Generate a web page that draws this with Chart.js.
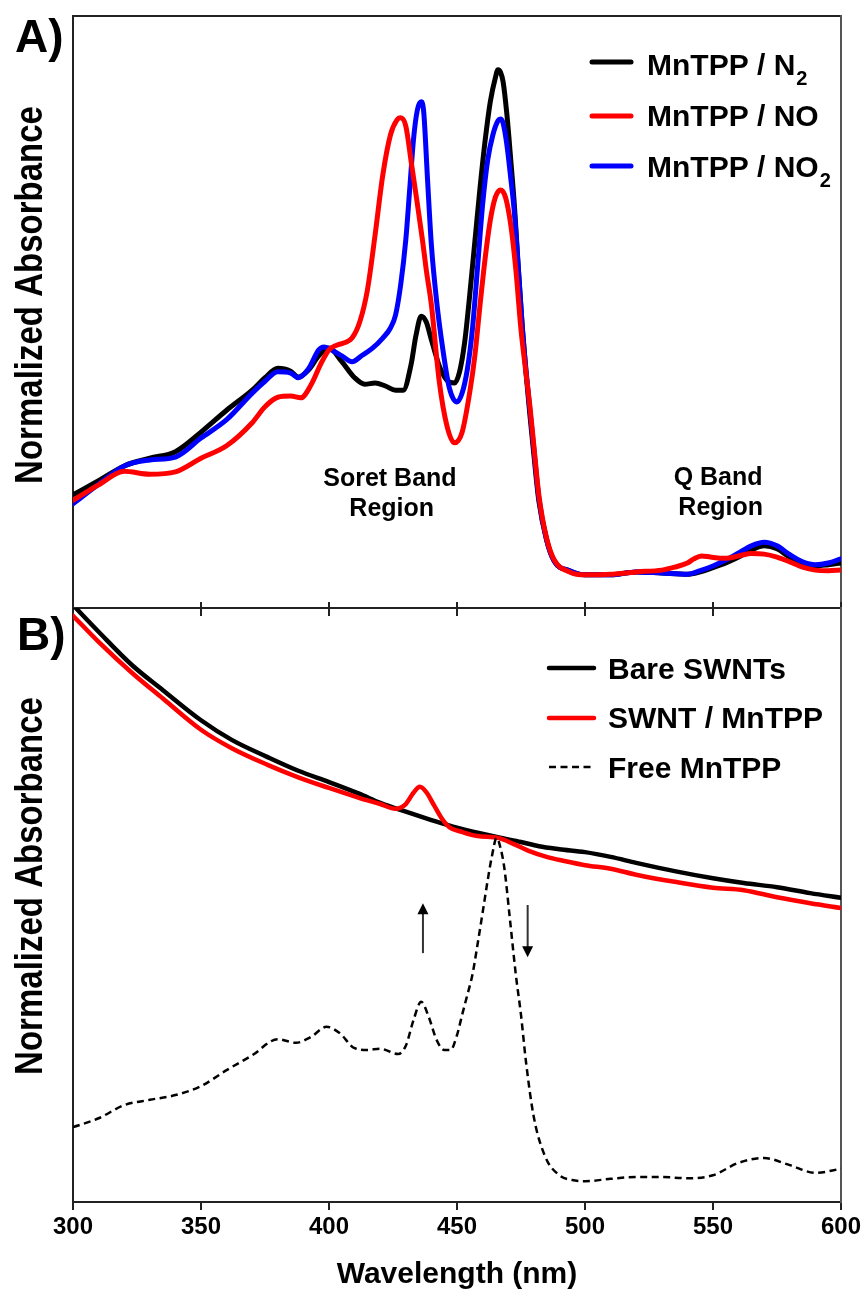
<!DOCTYPE html>
<html>
<head>
<meta charset="utf-8">
<script src="https://cdn.jsdelivr.net/npm/chart.js@4.4.1/dist/chart.umd.min.js"></script>
<style>
  html, body { margin: 0; padding: 0; background: #fff; }
  #wrap { position: relative; width: 865px; height: 1291px; }
  #wrap canvas { position: absolute; left: 0; top: 0; }
</style>
</head>
<body>
<div id="wrap">
  <canvas id="chartA" width="865" height="1291"></canvas>
  <canvas id="chartB" width="865" height="1291"></canvas>
</div>
<script>
// ---- panel A: MnTPP under different gases (normalized absorbance, 0-100) ----
const n2Nm  = [300, 310, 320, 330, 340, 350, 360, 370, 375, 380, 385, 388, 392, 396, 400, 405, 410, 414, 418, 422, 426, 429, 432, 434, 436, 438, 440, 443, 446, 449, 451, 453, 455, 457, 459, 461, 463, 465, 466, 467, 468, 469.5, 471, 472.5, 474, 475.5, 477, 478.5, 480, 482, 485, 488, 494, 500, 510, 520, 530, 540, 545, 550, 555, 560, 565, 570, 575, 580, 585, 590, 595, 600];
const n2Abs = [19.1, 21.5, 24.0, 25.3, 26.4, 29.7, 33.4, 36.8, 38.9, 40.5, 40.0, 39.0, 40.2, 42.6, 43.9, 41.6, 38.9, 37.8, 38.0, 37.5, 36.8, 36.8, 41.0, 46.1, 49.3, 48.3, 45.3, 41.0, 38.5, 38.0, 39.9, 44.9, 53.0, 62.0, 71.0, 79.0, 85.5, 89.6, 90.9, 90.5, 88.9, 83.3, 75.7, 67.5, 57.1, 47.5, 39.5, 32.5, 26.0, 18.0, 11.5, 7.9, 6.3, 5.6, 5.6, 6.1, 5.9, 5.7, 6.1, 6.8, 7.6, 8.6, 9.8, 10.5, 10.0, 8.6, 7.6, 7.1, 7.3, 7.6];

const noNm  = [300, 310, 320, 330, 340, 350, 360, 370, 375, 380, 385, 389, 393, 397, 400, 403, 406, 409, 412, 415, 418, 421, 424, 426.5, 428, 430, 432.3, 434.3, 436.5, 438, 440, 443, 446, 449, 452, 455, 457, 459, 461, 463, 465, 467, 469, 471, 473, 475, 477, 478.5, 480, 482, 485, 488, 494, 500, 510, 520, 530, 535, 540, 542.5, 545.5, 549, 553, 557, 561, 565, 570, 575, 580, 585, 590, 595, 600];
const noAbs = [18.2, 20.8, 23.1, 22.6, 23.0, 25.3, 27.4, 31.3, 34.0, 35.6, 35.8, 35.5, 37.7, 41.4, 43.6, 44.4, 44.8, 45.6, 48.3, 53.7, 63.0, 73.1, 79.9, 82.4, 82.8, 81.4, 74.8, 68.9, 62.2, 57.1, 51.2, 38.5, 30.9, 27.9, 29.7, 36.5, 42.7, 51.2, 59.1, 65.5, 69.4, 70.6, 69.3, 64.7, 57.1, 47.0, 39.5, 34.0, 27.5, 19.0, 11.8, 8.1, 6.1, 5.6, 5.7, 6.1, 6.4, 6.9, 7.6, 8.3, 8.8, 8.6, 8.4, 8.5, 8.9, 9.2, 9.1, 8.6, 7.8, 6.9, 6.4, 6.3, 6.4];

const no2Nm  = [300, 310, 320, 330, 340, 350, 360, 370, 375, 380, 385, 388, 392, 396, 398, 401, 405, 409, 413, 417, 421, 424, 426, 428, 430, 431.5, 433, 434.5, 436, 437, 438.5, 440, 442, 444.5, 447, 450, 452, 454, 456, 458, 460, 462, 464, 466, 467, 468, 469.5, 471, 472.5, 474, 475.5, 477, 478.5, 480, 482, 485, 488, 494, 500, 510, 520, 530, 540, 545, 550, 555, 560, 565, 570, 575, 580, 585, 590, 595, 600];
const no2Abs = [17.6, 20.9, 24.0, 25.0, 25.5, 28.7, 31.8, 36.3, 38.3, 39.9, 39.7, 38.9, 40.4, 43.6, 44.1, 43.6, 42.6, 41.6, 42.7, 43.9, 45.6, 47.3, 49.5, 54.6, 62.2, 70.6, 79.1, 84.1, 85.5, 83.8, 72.3, 61.3, 52.0, 43.6, 37.2, 34.8, 36.3, 40.2, 47.0, 57.4, 68.1, 75.7, 79.9, 82.3, 82.6, 81.9, 78.2, 72.6, 66.4, 57.1, 47.5, 40.0, 33.4, 27.0, 18.5, 11.5, 7.9, 6.3, 5.6, 5.6, 6.1, 5.9, 5.7, 6.3, 7.1, 8.1, 9.3, 10.5, 11.1, 10.5, 9.0, 7.8, 7.3, 7.6, 8.3];

// ---- panel B: nanotube films (normalized absorbance, 0-100) ----
const bareNm  = [300, 310, 323, 335, 350, 362, 376, 388, 400, 412, 420, 430, 440, 450, 466, 475, 482, 490, 500, 510, 520, 535, 550, 562, 575, 588, 600];
const bareAbs = [100.5, 96.0, 90.4, 86.2, 81.1, 77.8, 74.9, 72.6, 70.7, 68.7, 67.2, 65.7, 64.3, 63.0, 61.4, 60.6, 59.9, 59.4, 58.9, 58.1, 57.1, 55.7, 54.5, 53.7, 53.0, 52.0, 51.2];

const hybNm  = [300, 310, 323, 335, 350, 362, 376, 388, 400, 412, 420, 426, 430, 433, 435.5, 438, 441, 444, 447, 452, 458, 466, 472, 478, 485, 492, 500, 510, 520, 535, 550, 562, 575, 588, 600];
const hybAbs = [98.7, 94.3, 89.1, 84.8, 79.5, 76.4, 73.6, 71.5, 69.7, 68.0, 67.0, 66.2, 67.0, 68.9, 69.9, 69.0, 66.8, 64.6, 63.1, 62.3, 61.6, 61.3, 60.3, 59.1, 58.1, 57.4, 56.7, 56.1, 55.1, 53.9, 52.9, 52.5, 51.3, 50.3, 49.5];

const freeNm  = [300, 310, 320, 330, 340, 350, 360, 370, 380, 387, 393, 399, 404, 410, 415, 420, 427, 430, 433, 436, 439, 442, 445, 447.5, 450, 452, 454, 456, 458, 460, 462, 463.5, 465.5, 467, 468.5, 470.7, 473, 475, 477, 480, 484.5, 490, 495, 500, 510, 520, 530, 540, 550, 560, 570, 580, 590, 600];
const freeAbs = [12.6, 14.1, 16.3, 17.2, 18.0, 19.5, 22.2, 24.7, 27.4, 26.8, 27.8, 29.5, 28.5, 25.9, 25.6, 25.8, 24.9, 26.3, 30.6, 33.7, 31.1, 27.3, 25.6, 25.6, 28.1, 31.5, 34.8, 38.2, 43.3, 48.7, 54.2, 57.9, 61.3, 59.6, 56.2, 47.5, 38.2, 31.5, 23.4, 14.3, 7.6, 4.5, 3.7, 3.5, 3.9, 4.2, 4.2, 4.0, 4.5, 6.6, 7.4, 6.2, 4.9, 5.6];

const wlTicks = [300, 350, 400, 450, 500, 550, 600];

const namesA = ['MnTPP / N', 'MnTPP / NO', 'MnTPP / NO'];
const subsA  = ['2', '', '2'];
const namesB = ['Bare SWNTs', 'SWNT / MnTPP', 'Free MnTPP'];

const FONT = '"Liberation Sans", Arial, Helvetica, sans-serif';
Chart.defaults.font.family = FONT;

function pts(xs, ys) {
  return xs.map((x, i) => ({ x: x, y: ys[i] }));
}

function drawYTitle(ctx, text, baseX, centerY) {
  ctx.save();
  ctx.translate(baseX, centerY);
  ctx.rotate(-Math.PI / 2);
  ctx.scale(1, 1.15);
  ctx.font = 'bold 33px ' + FONT;
  ctx.fillStyle = '#000';
  ctx.textAlign = 'center';
  ctx.textBaseline = 'alphabetic';
  ctx.fillText(text, 0, 0);
  ctx.restore();
}

function drawLegend(chart, names, subs, x0, x1, tx, lineYs, baseYs) {
  const ctx = chart.ctx;
  names.forEach((name, i) => {
    const ds = chart.data.datasets[i];
    ctx.save();
    ctx.strokeStyle = ds.borderColor;
    ctx.lineWidth = ds.borderWidth;
    if (ds.borderDash) {
      ctx.setLineDash(ds.borderDash);
      ctx.lineCap = 'butt';
    } else {
      ctx.lineCap = 'round';
    }
    ctx.beginPath();
    ctx.moveTo(x0, lineYs[i]);
    ctx.lineTo(x1, lineYs[i]);
    ctx.stroke();
    ctx.setLineDash([]);
    ctx.fillStyle = '#000';
    ctx.textAlign = 'left';
    ctx.textBaseline = 'alphabetic';
    ctx.font = 'bold 30px ' + FONT;
    ctx.fillText(name, tx, baseYs[i]);
    if (subs && subs[i]) {
      const w = ctx.measureText(name).width;
      ctx.font = 'bold 20px ' + FONT;
      ctx.fillText(subs[i], tx + w + 1, baseYs[i] + 10);
    }
    ctx.restore();
  });
}

function drawArrow(ctx, x, y0, y1) {
  const dir = y1 < y0 ? -1 : 1;
  ctx.save();
  ctx.strokeStyle = '#333';
  ctx.lineWidth = 2;
  ctx.beginPath();
  ctx.moveTo(x, y0);
  ctx.lineTo(x, y1 - dir * 10);
  ctx.stroke();
  ctx.fillStyle = '#000';
  ctx.beginPath();
  ctx.moveTo(x, y1);
  ctx.lineTo(x - 5.5, y1 - dir * 11);
  ctx.lineTo(x + 5.5, y1 - dir * 11);
  ctx.closePath();
  ctx.fill();
  ctx.restore();
}

const panelAExtras = {
  id: 'panelAExtras',
  afterDraw(chart) {
    const ctx = chart.ctx;
    const xs = chart.scales.x, ys = chart.scales.y;
    ctx.save();
    ctx.fillStyle = '#000';
    ctx.font = 'bold 46px ' + FONT;
    ctx.textAlign = 'left';
    ctx.fillText('A)', 15, 52);
    ctx.font = 'bold 25px ' + FONT;
    ctx.textAlign = 'center';
    ctx.fillText('Soret Band', xs.getPixelForValue(423.8), ys.getPixelForValue(20.6));
    ctx.fillText('Region', xs.getPixelForValue(424.5), ys.getPixelForValue(15.5));
    ctx.fillText('Q Band', xs.getPixelForValue(552), ys.getPixelForValue(20.8));
    ctx.fillText('Region', xs.getPixelForValue(553), ys.getPixelForValue(15.7));
    ctx.restore();
    drawYTitle(ctx, 'Normalized Absorbance', 42, 295);
    drawLegend(chart, namesA, subsA, 592, 631, 647, [62, 116, 166], [75, 126, 177]);
  }
};

const panelBExtras = {
  id: 'panelBExtras',
  afterDraw(chart) {
    const ctx = chart.ctx;
    const xs = chart.scales.x, ys = chart.scales.y;
    ctx.save();
    ctx.fillStyle = '#000';
    ctx.font = 'bold 46px ' + FONT;
    ctx.textAlign = 'left';
    ctx.fillText('B)', 17, 650);
    ctx.restore();
    drawYTitle(ctx, 'Normalized Absorbance', 42, 886);
    drawLegend(chart, namesB, null, 549, 594, 608, [668, 718, 767], [679, 728, 778]);
    drawArrow(ctx, xs.getPixelForValue(436.7), ys.getPixelForValue(41.9), ys.getPixelForValue(50.3));
    drawArrow(ctx, xs.getPixelForValue(477.6), ys.getPixelForValue(50.0), ys.getPixelForValue(41.2));
  }
};

const frame = { color: '#222', width: 2 };

function baseOptions() {
  return {
    responsive: false,
    animation: false,
    events: [],
    elements: {
      point: { radius: 0 },
      line: { cubicInterpolationMode: 'monotone', borderCapStyle: 'round', borderJoinStyle: 'round' }
    },
    plugins: { legend: { display: false }, tooltip: { enabled: false } }
  };
}

// panel A
const optsA = baseOptions();
optsA.layout = { padding: { left: 73, top: 16, right: 24, bottom: 683 } };
optsA.scales = {
  x: {
    type: 'linear', min: 300, max: 600, position: 'bottom',
    ticks: { display: false, stepSize: 50 },
    grid: { drawOnChartArea: false, drawTicks: true, tickLength: 8, color: '#222', lineWidth: 2 },
    border: frame,
    afterFit: s => { s.height = 0; }
  },
  xTop: {
    type: 'linear', min: 300, max: 600, position: 'top',
    ticks: { display: false }, grid: { display: false }, border: frame,
    afterFit: s => { s.height = 0; }
  },
  y: {
    min: 0, max: 100, position: 'left',
    ticks: { display: false }, grid: { display: false }, border: frame,
    afterFit: s => { s.width = 0; }
  },
  yRight: {
    min: 0, max: 100, position: 'right',
    ticks: { display: false }, grid: { display: false }, border: { color: '#555', width: 2 },
    afterFit: s => { s.width = 0; }
  }
};

new Chart(document.getElementById('chartA'), {
  type: 'line',
  data: {
    datasets: [
      { label: 'MnTPP / N\u2082', data: pts(n2Nm, n2Abs), borderColor: '#000000', borderWidth: 5, order: 3 },
      { label: 'MnTPP / NO', data: pts(noNm, noAbs), borderColor: '#ff0000', borderWidth: 5, order: 1 },
      { label: 'MnTPP / NO\u2082', data: pts(no2Nm, no2Abs), borderColor: '#0000ff', borderWidth: 5, order: 2 }
    ]
  },
  options: optsA,
  plugins: [panelAExtras]
});

// panel B
const optsB = baseOptions();
optsB.layout = { padding: { left: 73, top: 608, right: 24, bottom: 0 } };
optsB.scales = {
  x: {
    type: 'linear', min: 300, max: 600, position: 'bottom',
    afterBuildTicks: s => { s.ticks = wlTicks.map(v => ({ value: v })); },
    ticks: { color: '#000', padding: 3, maxRotation: 0, font: { size: 24, weight: 'bold' } },
    grid: { drawOnChartArea: false, drawTicks: true, tickLength: 8, color: '#222', lineWidth: 2 },
    border: frame,
    title: { display: true, text: 'Wavelength (nm)', color: '#000', padding: 0, font: { size: 30, weight: 'bold', lineHeight: 1.1 } },
    afterFit: s => { s.height = 89; }
  },
  xTop: {
    type: 'linear', min: 300, max: 600, position: 'top',
    afterBuildTicks: s => { s.ticks = wlTicks.map(v => ({ value: v })); },
    ticks: { display: false },
    grid: { drawOnChartArea: false, drawTicks: true, tickLength: 6, color: '#222', lineWidth: 2 },
    border: { display: false },
    afterFit: s => { s.height = 0; }
  },
  y: {
    min: 0, max: 100, position: 'left',
    ticks: { display: false }, grid: { display: false }, border: frame,
    afterFit: s => { s.width = 0; }
  },
  yRight: {
    min: 0, max: 100, position: 'right',
    ticks: { display: false }, grid: { display: false }, border: { color: '#555', width: 2 },
    afterFit: s => { s.width = 0; }
  }
};

new Chart(document.getElementById('chartB'), {
  type: 'line',
  data: {
    datasets: [
      { label: 'Bare SWNTs', data: pts(bareNm, bareAbs), borderColor: '#000000', borderWidth: 4.5, order: 3 },
      { label: 'SWNT / MnTPP', data: pts(hybNm, hybAbs), borderColor: '#ff0000', borderWidth: 4.5, order: 2 },
      { label: 'Free MnTPP', data: pts(freeNm, freeAbs), borderColor: '#000000', borderWidth: 2.5, borderDash: [7, 4.5], borderCapStyle: 'butt', order: 1 }
    ]
  },
  options: optsB,
  plugins: [panelBExtras]
});
</script>
</body>
</html>
